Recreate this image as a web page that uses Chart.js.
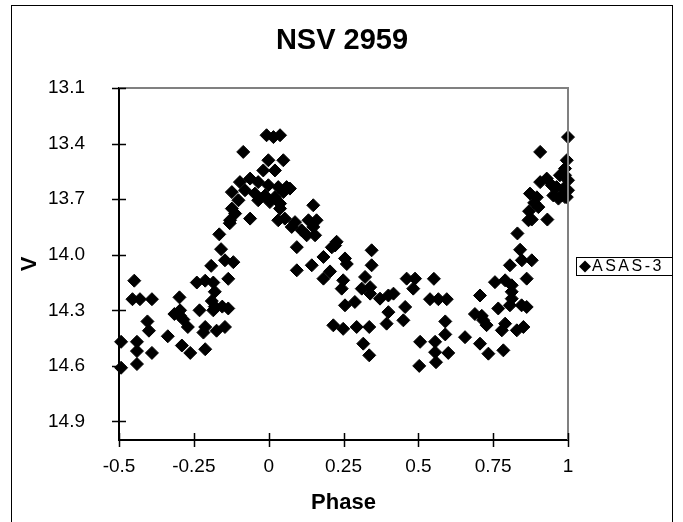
<!DOCTYPE html>
<html>
<head>
<meta charset="utf-8">
<script src="https://cdn.jsdelivr.net/npm/chart.js@4.4.0/dist/chart.umd.min.js"></script>
<style>
    html, body { margin: 0; padding: 0; background: #fff; }
</style>
</head>
<body>
<canvas id="myChart" width="683" height="522"></canvas>
<script>
const chartTitle = "NSV 2959";
const seriesName = "ASAS-3";
const xTitle = "Phase";
const yTitle = "V";
const xTicks = [-0.5, -0.25, 0, 0.25, 0.5, 0.75, 1];
const yTicks = [13.1, 13.4, 13.7, 14.0, 14.3, 14.6, 14.9];

// phase / V magnitude
const phase = [
    -0.449, -0.455, -0.43, -0.39, -0.405, -0.40, -0.493, -0.44, -0.44, -0.39, -0.493, -0.44,
    -0.337, -0.298, -0.315, -0.296, -0.285, -0.296, -0.27, -0.29, -0.262, -0.231, -0.212, -0.212,
    -0.218, -0.24, -0.212, -0.185, -0.18, -0.19, -0.18, -0.185, -0.135, -0.155, -0.174, -0.146,
    -0.192, -0.159, -0.165, -0.146, -0.118, -0.135, -0.13,
    -0.007, 0.016, 0.038, -0.085, -0.001, 0.049, -0.018, 0.021, -0.096, -0.062, -0.035, -0.001,
    0.032, 0.06, -0.123, -0.079, -0.046, -0.012, 0.021, 0.049, 0.071, -0.101, -0.035, 0.004,
    0.038, -0.123, 0.038, 0.149, -0.112, -0.129, -0.062, 0.032, 0.054, 0.088, 0.133, 0.16,
    0.077, 0.11, 0.149, 0.127, 0.155, 0.094, 0.094, 0.144, 0.183, 0.222,
    0.227, 0.211, 0.255, 0.261, 0.344, 0.344, 0.205, 0.183, 0.249, 0.244, 0.322, 0.311,
    0.339, 0.339, 0.255, 0.288, 0.372, 0.40, 0.417, 0.40, 0.394, 0.45, 0.456, 0.461,
    0.489, 0.483, 0.216, 0.249, 0.294, 0.336, 0.316, 0.336,
    0.552, 0.539, 0.567, 0.595, 0.59, 0.59, 0.60, 0.506, 0.556, 0.556, 0.503, 0.559,
    0.656, 0.706, 0.689, 0.712, 0.717, 0.728, 0.706, 0.734, 0.784, 0.767, 0.756, 0.79,
    0.812, 0.812, 0.812, 0.806, 0.845, 0.862, 0.79, 0.779, 0.829, 0.851, 0.862, 0.84,
    0.846, 0.879, 0.806, 0.831,
    0.873, 0.896, 0.887, 0.87, 0.901, 0.868, 0.879, 0.931, 0.951, 0.968, 0.99, 1.0,
    0.907, 0.996, 0.99, 0.99, 0.973, 1.0, 0.929, 0.907, 0.946, 0.962, 0.985, 1.0,
    0.979, 0.996
];
const mag = [
    14.14, 14.24, 14.24, 14.24, 14.36, 14.41, 14.47, 14.47, 14.52, 14.53, 14.61, 14.59,
    14.44, 14.23, 14.32, 14.33, 14.35, 14.30, 14.39, 14.49, 14.53, 14.30, 14.51, 14.39,
    14.42, 14.15, 14.14, 14.15, 14.20, 14.25, 14.28, 14.30, 14.29, 14.28, 14.41, 14.39,
    14.06, 13.97, 13.89, 14.03, 14.04, 14.13, 13.83,
    13.355, 13.365, 13.355, 13.445, 13.49, 13.49, 13.545, 13.545, 13.608, 13.589, 13.608, 13.625,
    13.635, 13.635, 13.662, 13.652, 13.67, 13.68, 13.689, 13.662, 13.643, 13.706, 13.706, 13.716,
    13.724, 13.751, 13.751, 13.733, 13.778, 13.814, 13.805, 13.814, 13.805, 13.824, 13.814, 13.814,
    13.85, 13.868, 13.85, 13.895, 13.895, 13.959, 14.084, 14.057, 14.012, 13.95,
    13.93, 13.96, 14.02, 14.05, 13.976, 14.057, 14.09, 14.129, 14.138, 14.183, 14.12, 14.183,
    14.175, 14.21, 14.273, 14.255, 14.237, 14.22, 14.21, 14.31, 14.372, 14.354, 14.282, 14.129,
    14.129, 14.183, 14.381, 14.40, 14.39, 14.39, 14.48, 14.543,
    14.13, 14.24, 14.24, 14.24, 14.36, 14.43, 14.53, 14.47, 14.47, 14.526, 14.60, 14.58,
    14.445, 14.22, 14.32, 14.33, 14.354, 14.38, 14.48, 14.534, 14.516, 14.29, 14.148, 14.138,
    14.165, 14.20, 14.237, 14.273, 14.273, 14.282, 14.372, 14.408, 14.408, 14.39, 14.129, 13.973,
    14.03, 14.03, 14.057, 13.885,
    13.67, 13.69, 13.72, 13.765, 13.743, 13.814, 13.81, 13.81, 13.68, 13.697, 13.689, 13.365,
    13.445, 13.49, 13.535, 13.571, 13.571, 13.598, 13.589, 13.608, 13.625, 13.635, 13.643, 13.652,
    13.68, 13.689
];

let points = [];
for (let i = 0; i < phase.length; i++) {
    points.push({ x: phase[i], y: mag[i] });
}

const fontFamily = "'Liberation Sans', Arial, sans-serif";
Chart.defaults.font.family = fontFamily;
Chart.defaults.color = "#000";

// title, plot frame, crossing tick marks, outer border and legend box
const framePlugin = {
    id: "frame",
    afterDraw(chart) {
        const ctx = chart.ctx;
        const area = chart.chartArea;
        const xs = chart.scales.x;
        const ys = chart.scales.y;
        ctx.save();

        ctx.fillStyle = "#000";
        ctx.font = "bold 29px " + fontFamily;
        ctx.textAlign = "center";
        ctx.textBaseline = "middle";
        ctx.fillText(chartTitle, 342, 41);

        ctx.strokeStyle = "#808080";
        ctx.lineWidth = 2;
        ctx.beginPath();
        ctx.moveTo(area.left, area.top);
        ctx.lineTo(area.right, area.top);
        ctx.lineTo(area.right, area.bottom);
        ctx.stroke();

        ctx.strokeStyle = "#000";
        ctx.lineWidth = 1.5;
        ctx.beginPath();
        for (let i = 0; i < xTicks.length; i++) {
            let px = Math.round(xs.getPixelForValue(xTicks[i])) + 0.5;
            ctx.moveTo(px, area.bottom - 7);
            ctx.lineTo(px, area.bottom + 7);
        }
        for (let i = 0; i < yTicks.length; i++) {
            let py = Math.round(ys.getPixelForValue(yTicks[i])) + 0.5;
            ctx.moveTo(area.left - 7, py);
            ctx.lineTo(area.left + 7, py);
        }
        ctx.stroke();

        ctx.lineWidth = 1;
        ctx.strokeRect(11.5, 5.5, 661, 530);

        ctx.strokeRect(576.5, 257.5, 96, 18);
        ctx.beginPath();
        ctx.moveTo(579, 266.5);
        ctx.lineTo(585, 260.5);
        ctx.lineTo(591, 266.5);
        ctx.lineTo(585, 272.5);
        ctx.closePath();
        ctx.fill();
        ctx.font = "16px " + fontFamily;
        ctx.textBaseline = "middle";
        ctx.textAlign = "left";
        ctx.letterSpacing = "2.5px";
        ctx.fillText(chart.data.datasets[0].label, 592, 267);
        ctx.restore();
    }
};

const myChart = new Chart(document.getElementById("myChart"), {
    type: "scatter",
    data: {
        datasets: [{
            label: seriesName,
            data: points,
            pointStyle: "rectRot",
            pointRadius: 6.5,
            pointHoverRadius: 6.5,
            pointBorderWidth: 1,
            backgroundColor: "#000",
            borderColor: "#000",
            clip: false
        }]
    },
    options: {
        responsive: false,
        animation: false,
        layout: { padding: { left: 0, top: 88, right: 115, bottom: 0 } },
        plugins: {
            legend: { display: false },
            tooltip: { enabled: false },
            title: { display: false }
        },
        scales: {
            x: {
                type: "linear",
                min: -0.5,
                max: 1,
                afterBuildTicks: (scale) => { scale.ticks = xTicks.map(v => ({ value: v })); },
                afterFit: (scale) => { scale.height = 82; },
                grid: { display: false },
                border: { display: true, color: "#000", width: 2 },
                ticks: {
                    font: { size: 19 },
                    color: "#000",
                    padding: 7,
                    autoSkip: false,
                    maxRotation: 0,
                    callback: (v) => String(v)
                },
                title: {
                    display: true,
                    text: xTitle,
                    font: { size: 22, weight: "bold" },
                    color: "#000",
                    padding: { top: 0, bottom: 6 }
                }
            },
            y: {
                type: "linear",
                reverse: true,
                min: 13.1,
                max: 15.0,
                afterBuildTicks: (scale) => { scale.ticks = yTicks.map(v => ({ value: v })); },
                afterFit: (scale) => { scale.width = 119; },
                grid: { display: false },
                border: { display: true, color: "#000", width: 2 },
                ticks: {
                    font: { size: 19 },
                    color: "#000",
                    padding: 26,
                    callback: (v) => v.toFixed(1)
                },
                title: {
                    display: true,
                    text: yTitle,
                    font: { size: 22, weight: "bold" },
                    color: "#000",
                    padding: { top: 17, bottom: 0 }
                }
            }
        }
    },
    plugins: [framePlugin]
});
</script>
</body>
</html>
